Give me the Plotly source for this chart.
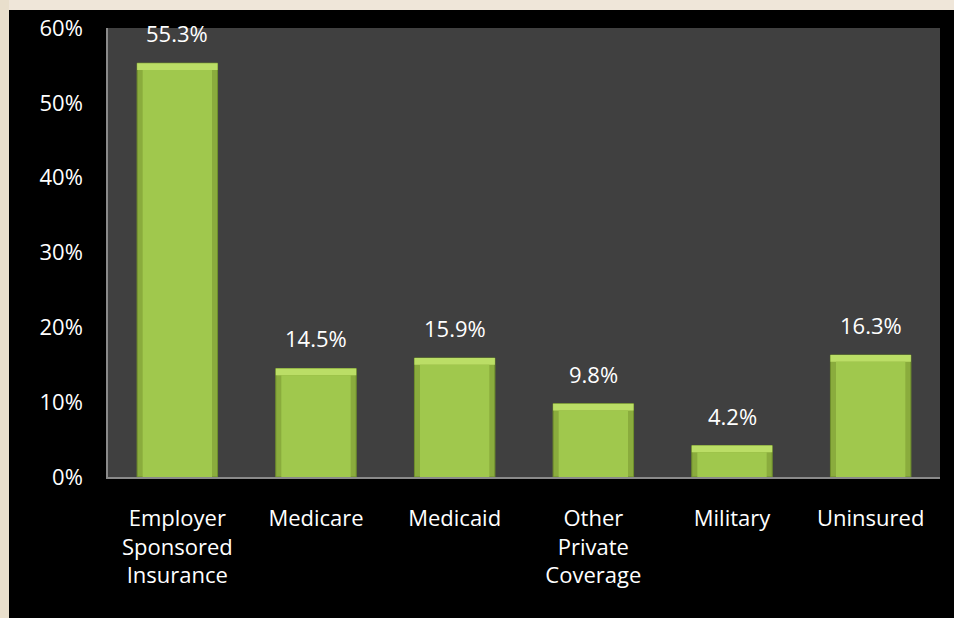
import plotly.graph_objects as go

categories = ["Employer<br>Sponsored<br>Insurance", "Medicare", "Medicaid",
              "Other<br>Private<br>Coverage", "Military", "Uninsured"]
values = [55.3, 14.5, 15.9, 9.8, 4.2, 16.3]
value_labels = ["55.3%", "14.5%", "15.9%", "9.8%", "4.2%", "16.3%"]
y_ticks = [0, 10, 20, 30, 40, 50, 60]
y_tick_labels = ["0%", "10%", "20%", "30%", "40%", "50%", "60%"]

FONT = "Open Sans"
FS = 22
BEVEL = 0.9  # visual bevel depth in axis units

fig = go.Figure()
# side bevel (darker) full bar
fig.add_trace(go.Bar(
    x=categories, y=values, width=0.58,
    marker=dict(color="#8aac3d", line=dict(color="#6f8f2c", width=1)),
    hoverinfo="skip",
))
# top bevel (lighter band)
fig.add_trace(go.Bar(
    x=categories, y=[BEVEL] * len(values), base=[v - BEVEL for v in values],
    width=0.58, marker=dict(color="#bbde66", line=dict(width=0)),
    hoverinfo="skip",
))
# main face
fig.add_trace(go.Bar(
    x=categories, y=[v - BEVEL for v in values], width=0.50,
    marker=dict(color="#a0c84d", line=dict(width=0)),
    hoverinfo="skip",
))

for c, v, t in zip(categories, values, value_labels):
    fig.add_annotation(x=c, y=v, text=t, showarrow=False, yanchor="bottom",
                       yshift=13, font=dict(family=FONT, size=FS, color="white"))

W, H = 954, 618
L, R, T, B = 108, 14, 26, 141
pw = W - L - R
ph = H - T - B
# beige background strips (top and left) outside the black panel
fig.add_shape(type="rect", xref="paper", yref="paper",
              x0=(0 - L) / pw, x1=(W - L) / pw,
              y0=(H - B - 8) / ph, y1=(H - B) / ph + 0.01,
              fillcolor="#efe6d9", line=dict(width=0), layer="below")
fig.add_shape(type="rect", xref="paper", yref="paper",
              x0=(0 - L) / pw, x1=(9 - L) / pw,
              y0=(-B) / ph - 0.01, y1=(H - B) / ph + 0.01,
              fillcolor="#e9dfcc", line=dict(width=0), layer="below")

fig.update_layout(
    width=W, height=H,
    margin=dict(l=L, r=R, t=T, b=B),
    paper_bgcolor="black", plot_bgcolor="#404040",
    showlegend=False, barmode="overlay",
    font=dict(family=FONT, size=FS, color="white"),
    xaxis=dict(showgrid=False, showline=True, linecolor="#8a8a8a", linewidth=1.5,
               ticks="", ticklabelstandoff=21, tickangle=0,
               tickfont=dict(family=FONT, size=FS, color="white")),
    yaxis=dict(range=[0, 60], tickvals=y_ticks, ticktext=y_tick_labels,
               showgrid=False, zeroline=False, showline=True, linecolor="#8a8a8a",
               linewidth=1.5, ticks="", ticklabelstandoff=19,
               tickfont=dict(family=FONT, size=FS, color="white")),
)

fig.write_html(
    "out.html",
    config={"displayModeBar": False},
    post_script="document.body.style.margin='0';document.body.style.overflow='hidden';",
)
